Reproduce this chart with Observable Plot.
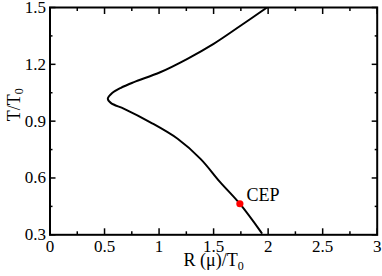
<!DOCTYPE html>
<html>
<head>
<meta charset="utf-8">
<script src="https://cdn.jsdelivr.net/npm/d3@7"></script>
<script src="https://cdn.jsdelivr.net/npm/@observablehq/plot@0.6"></script>
<style>
  html, body { margin: 0; padding: 0; background: #fff; }
  svg, svg text, svg tspan { font-family: "Liberation Serif", "Times New Roman", serif !important; }
</style>
</head>
<body>
<div id="chart"></div>
<script>
// Phase boundary curve, traced from top to bottom
const R = [1.99, 1.75, 1.50, 1.26, 1.01, 0.77, 0.65, 0.57, 0.53, 0.56, 0.68, 0.92, 1.17, 1.38, 1.56, 1.74, 1.94];
const T = [1.50, 1.405, 1.308, 1.229, 1.158, 1.106, 1.076, 1.048, 1.018, 0.995, 0.965, 0.894, 0.807, 0.701, 0.578, 0.464, 0.31];
// Critical end point
const cepR = [1.741];
const cepT = [0.464];
const cepLabel = ["CEP"];
// Ticks
const xTicks = [0, 0.5, 1, 1.5, 2, 2.5, 3];
const xMinor = [0.25, 0.75, 1.25, 1.75, 2.25, 2.75];
const yTicks = [0.3, 0.6, 0.9, 1.2, 1.5];
const yMinor = [0.45, 0.75, 1.05, 1.35];
const xLabel = "R (μ)/T0";
const yLabel = "T/T0";

const curve = R.map((r, i) => ({r, t: T[i]}));
const cep = cepR.map((r, i) => ({r, t: cepT[i], label: cepLabel[i]}));

const fmt = d => String(d);
const tickW = 1.5;
const serif = "Liberation Serif";

const chart = Plot.plot({
  width: 382,
  height: 276,
  marginLeft: 49.5,
  marginRight: 5.3,
  marginTop: 7,
  marginBottom: 41.7,
  style: {fontFamily: serif, fontSize: "17px", background: "#fff", color: "#000", overflow: "visible"},
  x: {domain: [0, 3]},
  y: {domain: [0.3, 1.5]},
  marks: [
    // inward major ticks (all four sides)
    Plot.axisX(xTicks, {anchor: "bottom", tickSize: 6, dy: -6, fill: "none", strokeWidth: tickW}),
    Plot.axisX(xTicks, {anchor: "top", tickSize: 6, dy: 6, fill: "none", strokeWidth: tickW}),
    Plot.axisY(yTicks, {anchor: "left", tickSize: 6, dx: 6, fill: "none", strokeWidth: tickW}),
    Plot.axisY(yTicks, {anchor: "right", tickSize: 6, dx: -6, fill: "none", strokeWidth: tickW}),
    // inward minor ticks
    Plot.axisX(xMinor, {anchor: "bottom", tickSize: 3, dy: -3, fill: "none", strokeWidth: tickW}),
    Plot.axisX(xMinor, {anchor: "top", tickSize: 3, dy: 3, fill: "none", strokeWidth: tickW}),
    Plot.axisY(yMinor, {anchor: "left", tickSize: 3, dx: 3, fill: "none", strokeWidth: tickW}),
    Plot.axisY(yMinor, {anchor: "right", tickSize: 3, dx: -3, fill: "none", strokeWidth: tickW}),
    // tick labels
    Plot.axisX(xTicks, {anchor: "bottom", tickSize: 0, tickPadding: 5, tickFormat: fmt, label: null, fontSize: 17, fontFamily: serif}),
    Plot.axisY(yTicks, {anchor: "left", tickSize: 0, tickPadding: 4, tickFormat: fmt, label: null, fontSize: 17, fontFamily: serif}),
    // frame
    Plot.frame({strokeWidth: 2, stroke: "#000"}),
    // curve
    Plot.line(curve, {x: "r", y: "t", curve: "catmull-rom", stroke: "#000", strokeWidth: 2, clip: true}),
    // CEP
    Plot.dot(cep, {x: "r", y: "t", r: 3.6, fill: "#ff0000", stroke: "none"}),
    Plot.text(cep, {x: "r", y: "t", text: "label", dx: 6.5, dy: -9, textAnchor: "start", fontSize: 18, fontFamily: serif}),
    // axis labels
    Plot.text([xLabel], {frameAnchor: "bottom", dy: 31.5, text: d => d, fontSize: 18, fontFamily: serif}),
    Plot.text([yLabel], {frameAnchor: "left", dx: -36, rotate: -90, text: d => d, fontSize: 18, fontFamily: serif})
  ]
});

// render trailing "0" of labels as subscripts
d3.select(chart).selectAll("text").each(function() {
  const t = this.textContent;
  if (t === xLabel || t === yLabel) {
    const sel = d3.select(this);
    sel.text(t.slice(0, -1));
    sel.append("tspan").attr("dy", "0.3em").attr("font-size", "12").text("0");
  }
});

document.getElementById("chart").appendChild(chart);
</script>
</body>
</html>
